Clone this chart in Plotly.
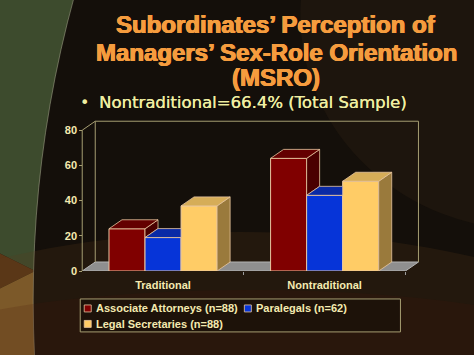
import plotly.graph_objects as go

# ---------------- data ----------------
categories = ["Traditional", "Nontraditional"]
series_names = ["Associate Attorneys (n=88)", "Paralegals (n=62)", "Legal Secretaries (n=88)"]
associate_attorneys = [24, 64]
paralegals = [19, 43]
legal_secretaries = [37, 51]
y_ticks = [0, 20, 40, 60, 80]

title_lines = ["Subordinates\u2019 Perception of", "Managers\u2019 Sex-Role Orientation", "(MSRO)"]
bullet_text = "Nontraditional=66.4% (Total Sample)"

# ---------------- styles ----------------
front_colors = ["#800000", "#0634d8", "#ffcc66"]
top_colors = ["#640000", "#0a2aa6", "#d6ad58"]
side_colors = ["#4a0000", "#001c85", "#9a7a3c"]
edge_color = "#e9c6a0"
frame_color = "#a69e72"
text_cream = "#f4eab0"
bullet_yellow = "#efeea2"
title_orange = "#f59c3e"
FONT = "Liberation Sans"

W, H = 474, 355
X0PX, XU = 82.0, 161.5      # pixel of x=-0.5, pixels per category
Y0PX, YU = 271.0, 1.7625    # pixel of y=0, pixels per unit
XMIN, XMAX = -0.52, 1.59
YMIN, YMAX = 0.0, 85.8
ml = X0PX - (-0.5 - XMIN) * XU
mr = W - (X0PX + (XMAX + 0.5) * XU)
mb = H - Y0PX
mt = Y0PX - YMAX * YU
pw = W - ml - mr
ph = H - mt - mb


def px_x(px):
    return (px - ml) / pw


def px_y(py):
    return (H - mb - py) / ph


DX = 13 / XU          # depth offset (x units)
DY = 9 / YU           # depth offset (y units)
GROUP = 0.669
BW = GROUP / 3

series = [associate_attorneys, paralegals, legal_secretaries]
xs = list(range(len(categories)))

fig = go.Figure()

# front faces (the bars)
for k, (name, vals) in enumerate(zip(series_names, series)):
    fig.add_trace(go.Bar(
        x=xs, y=vals, name=name, width=BW, offset=-GROUP / 2 + k * BW,
        marker=dict(color=front_colors[k], line=dict(color=edge_color, width=1)),
        showlegend=False, hoverinfo="y+name",
    ))


def poly(pts, color):
    px = [p[0] for p in pts] + [pts[0][0]]
    py = [p[1] for p in pts] + [pts[0][1]]
    fig.add_trace(go.Scatter(
        x=px, y=py, mode="lines", fill="toself", fillcolor=color,
        line=dict(color=edge_color, width=0.8), hoverinfo="skip", showlegend=False,
    ))


# 3-D depth faces computed from the values
for ci, c in enumerate(xs):
    for k in range(len(series)):
        v = series[k][ci]
        x0 = c - GROUP / 2 + k * BW
        x1 = x0 + BW
        vn = series[k + 1][ci] if k + 1 < len(series) else None
        # side face
        if vn is None:
            poly([(x1, 0), (x1 + DX, DY), (x1 + DX, v + DY), (x1, v)], side_colors[k])
        elif v > vn:
            poly([(x1, vn), (x1 + DX, vn + DY), (x1 + DX, v + DY), (x1, v)], side_colors[k])
        # top face
        if vn is None or vn <= v:
            pts = [(x0, v), (x0 + DX, v + DY), (x1 + DX, v + DY), (x1, v)]
        elif vn >= v + DY:
            pts = [(x0, v), (x0 + DX, v + DY), (x1, v + DY), (x1, v)]
        else:
            xc = x1 + DX * (v + DY - vn) / DY
            pts = [(x0, v), (x0 + DX, v + DY), (xc, v + DY), (x1, vn), (x1, v)]
        poly(pts, top_colors[k])

ytop = y_ticks[-1]
shapes = []


def paper_rect(x0, y0, x1, y1, color, line=None, layer="below", kind="rect"):
    d = dict(type=kind, xref="paper", yref="paper",
             x0=px_x(x0), x1=px_x(x1), y0=px_y(y0), y1=px_y(y1),
             fillcolor=color, layer=layer, line=dict(width=0))
    if line:
        d["line"] = line
    shapes.append(d)


def paper_poly(pts, color):
    path = "M " + " L ".join("{} {}".format(px_x(a), px_y(b)) for a, b in pts) + " Z"
    shapes.append(dict(type="path", xref="paper", yref="paper", layer="below",
                       path=path, fillcolor=color, line=dict(width=0)))


# slide background
paper_poly([(-5, -5), (140, -5), (140, 272), (35, 271), (-5, 251)], "#3d4b2d")
paper_poly([(-5, 251), (35, 271), (-5, 291)], "#5a3616")
paper_poly([(-5, 291), (35, 271), (80, 271), (80, 360), (-5, 360)], "#86622d")
paper_rect(33, -845, 2323, 1445, "#140f0a", line=dict(color="rgba(175,175,150,0.5)", width=1), kind="circle")
paper_rect(-200, 232, 680, 560, "rgba(90,58,28,0.22)", kind="circle")
paper_rect(-100, 290, 600, 420, "rgba(70,20,10,0.18)", kind="circle")
paper_rect(300, -200, 760, 230, "rgba(70,48,26,0.18)", kind="circle")

# floor and walls
floor_path = "M -0.5 0 L 1.5 0 L {} {} L {} {} Z".format(1.5 + DX, DY, -0.5 + DX, DY)
shapes.append(dict(type="path", xref="x", yref="y", layer="below", path=floor_path,
                   fillcolor="#8f8f8f", line=dict(color="#b4b4b4", width=1)))
wall_path = "M -0.5 0 L -0.5 {t} L {a} {tt} L {b} {tt} L {b} {d} M {a} {d} L {a} {tt}".format(
    t=ytop, a=-0.5 + DX, b=1.5 + DX, tt=ytop + DY, d=DY)
shapes.append(dict(type="path", xref="x", yref="y", layer="below", path=wall_path,
                   line=dict(color=frame_color, width=1)))

# legend box and keys
paper_rect(80, 299, 400, 332, "rgba(20,14,8,0.55)", line=dict(color=frame_color, width=1))
legend_pos = [(84, 308.5), (244, 308.5), (84, 324)]
annotations = []
legend_font = dict(family=FONT, size=11, color=text_cream, weight="bold")
for k, (lx, ly) in enumerate(legend_pos):
    paper_rect(lx, ly - 3.5, lx + 7, ly + 3.5, front_colors[k],
               line=dict(color=edge_color, width=0.8), layer="above")
    annotations.append(dict(text=series_names[k], xref="paper", yref="paper",
                            x=px_x(lx + 10), y=px_y(ly), xanchor="left", yanchor="middle",
                            showarrow=False, font=legend_font))

title_y = [24, 52, 77]
heavy = "0.6px 0 0 {c}, -0.6px 0 0 {c}, 0 0.4px 0 {c}".format(c=title_orange)
for t, yy in zip(title_lines, title_y):
    annotations.append(dict(text=t, xref="paper", yref="paper", x=px_x(276), y=px_y(yy),
                            xanchor="center", yanchor="middle", showarrow=False,
                            font=dict(family=FONT, size=24, color=title_orange, weight="bold",
                                      shadow=heavy)))
annotations.append(dict(text="\u2022", xref="paper", yref="paper", x=px_x(84), y=px_y(102),
                        xanchor="center", yanchor="middle", showarrow=False,
                        font=dict(family="DejaVu Sans", size=16, color=bullet_yellow)))
annotations.append(dict(text=bullet_text, xref="paper", yref="paper", x=px_x(97), y=px_y(102),
                        xanchor="left", yanchor="middle", showarrow=False,
                        font=dict(family="DejaVu Sans", size=16.5, color=bullet_yellow,
                                  shadow="0.3px 0 0 " + bullet_yellow)))

fig.update_layout(
    template="none",
    width=W, height=H,
    margin=dict(l=ml, r=mr, t=mt, b=mb, pad=0, autoexpand=False),
    paper_bgcolor="#1a130d",
    plot_bgcolor="rgba(0,0,0,0)",
    barmode="overlay",
    showlegend=False,
    xaxis=dict(range=[XMIN, XMAX], tickmode="array", tickvals=xs, ticktext=categories,
               showgrid=False, zeroline=False, showline=False, ticks="",
               ticklabelstandoff=6,
               tickfont=dict(family=FONT, size=11, color=text_cream, weight="bold"),
               minor=dict(tickmode="array", tickvals=[0.5, 1.5], ticks="outside", ticklen=3,
                          tickcolor="#9a9a9a", showgrid=False),
               fixedrange=True),
    yaxis=dict(range=[YMIN, YMAX], tickmode="array", tickvals=y_ticks,
               showgrid=False, zeroline=False, showline=False, ticks="outside", ticklen=3,
               tickcolor=frame_color, anchor="free", position=px_x(X0PX),
               tickfont=dict(family=FONT, size=11, color=text_cream, weight="bold"),
               fixedrange=True),
    shapes=shapes,
    annotations=annotations,
)

fig.write_html("out.html")
